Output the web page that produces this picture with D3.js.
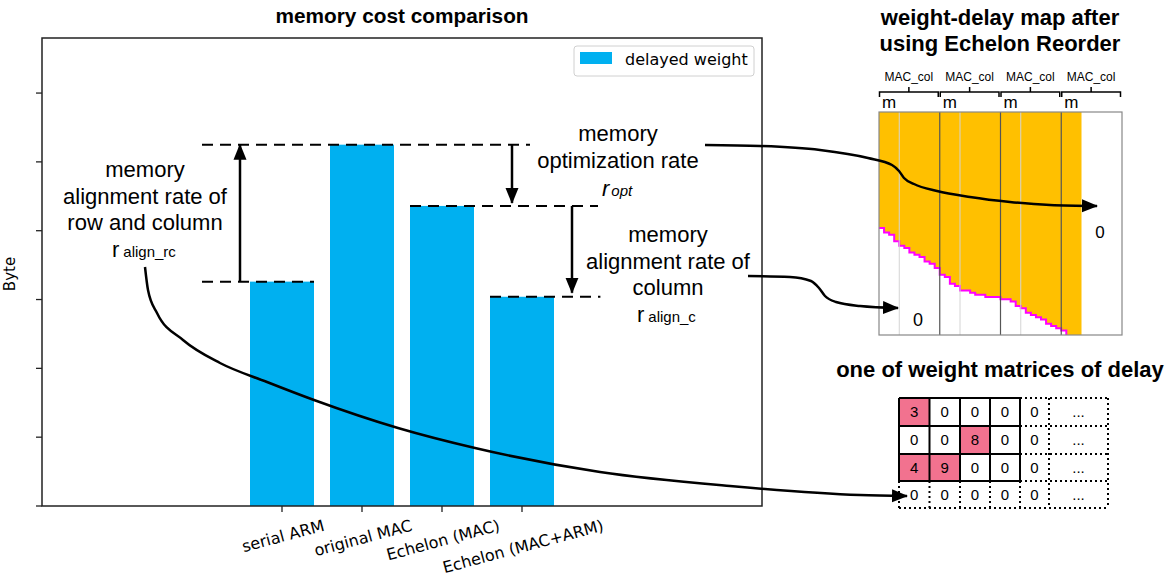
<!DOCTYPE html>
<html><head><meta charset="utf-8">
<script src="https://cdn.jsdelivr.net/npm/d3@7"></script>
<style>
body{margin:0;background:#fff}
text{font-family:"Liberation Sans",Arial,sans-serif;fill:#000}
.dv{font-family:"DejaVu Sans",sans-serif}
</style>
</head><body>
<script>
// bar chart values (unlabelled y axis)
var categories = ["serial ARM", "original MAC", "Echelon (MAC)", "Echelon (MAC+ARM)"];
var delayed = [3.26, 5.25, 4.36, 3.04];
var yTicks = [0, 1, 2, 3, 4, 5, 6];

// weight-delay map: 4 groups of 12 weight columns, delay edge per column (0-100 rows)
var macGroups = ["MAC_col", "MAC_col", "MAC_col", "MAC_col"];
var delayEdge = [52, 54, 55, 58, 60, 61, 63, 64, 65, 67, 68, 70, 73, 74, 77, 78, 80, 80, 81, 82,
                 82, 83, 83, 83, 84, 84, 85, 87, 88, 90, 91, 92, 93, 95, 96, 97, 98, 100, 100, 100];

// one weight matrix of delay
var matrixRows = [
  ["3", "0", "0", "0", "0", "..."],
  ["0", "0", "8", "0", "0", "..."],
  ["4", "9", "0", "0", "0", "..."],
  ["0", "0", "0", "0", "0", "..."]
];
var pinkCells = [[0, 0], [1, 2], [2, 0], [2, 1]];

var svg = d3.select("body").append("svg").attr("width", 1170).attr("height", 577);

var defs = svg.append("defs");
defs.append("marker").attr("id", "ah")
    .attr("markerUnits", "userSpaceOnUse")
    .attr("viewBox", "0 -7 16 14").attr("refX", 15).attr("refY", 0)
    .attr("markerWidth", 16).attr("markerHeight", 14).attr("orient", "auto")
  .append("path").attr("d", "M0,-6.5L16,0L0,6.5Z").attr("fill", "#000");

// ---------------- left chart ----------------
var L = 42, R = 762, T = 38, B = 506;
var x = d3.scaleLinear().domain([-3, 6]).range([L, R]);
var y = d3.scaleLinear().domain([0, 6.8]).range([B, T]);
var bw = 0.8;

svg.append("text").attr("x", 402).attr("y", 23).attr("text-anchor", "middle")
   .style("font-size", "20.8px").style("font-weight", "bold").text("memory cost comparison");

svg.selectAll("rect.bar").data(delayed).enter().append("rect")
   .attr("class", "bar")
   .attr("x", function(d, i) { return x(i - bw / 2); })
   .attr("width", x(bw) - x(0))
   .attr("y", function(d) { return y(d); })
   .attr("height", function(d) { return B - y(d); })
   .attr("fill", "#00B0F0");

svg.append("rect").attr("x", L).attr("y", T).attr("width", R - L).attr("height", B - T)
   .attr("fill", "none").attr("stroke", "#222").attr("stroke-width", 1.5);

svg.selectAll("line.yt").data(yTicks).enter().append("line")
   .attr("x1", L - 6).attr("x2", L).attr("y1", function(d) { return y(d); }).attr("y2", function(d) { return y(d); })
   .attr("stroke", "#222").attr("stroke-width", 1.3);

svg.selectAll("line.xt").data(categories).enter().append("line")
   .attr("x1", function(d, i) { return x(i); }).attr("x2", function(d, i) { return x(i); })
   .attr("y1", B).attr("y2", B + 6).attr("stroke", "#222").attr("stroke-width", 1.3);

var sin = Math.sin(15 * Math.PI / 180), cos = Math.cos(15 * Math.PI / 180);
svg.selectAll("text.xl").data(categories).enter().append("text")
   .attr("class", "dv").style("font-size", "16px").attr("text-anchor", "middle").attr("dy", "0.35em")
   .text(function(d) { return d; })
   .attr("transform", function(d, i) {
     var len = this.getComputedTextLength();
     var H = len * sin + 18.5 * cos;
     return "translate(" + (x(i) + 1) + "," + (516 + H / 2) + ") rotate(-15)";
   });

svg.append("text").attr("class", "dv").style("font-size", "15px").attr("text-anchor", "middle")
   .attr("transform", "translate(15,274) rotate(-90)").text("Byte");

// legend
var lg = svg.append("g");
lg.append("rect").attr("x", 574).attr("y", 46).attr("width", 180).attr("height", 30).attr("rx", 3)
  .attr("fill", "#fff").attr("stroke", "#d0d0d0");
lg.append("rect").attr("x", 580).attr("y", 52).attr("width", 32).attr("height", 12).attr("fill", "#00B0F0");
lg.append("text").attr("class", "dv").attr("x", 625).attr("y", 65).style("font-size", "16px").text("delayed weight");

// dashed guide lines at bar tops
var guides = [[-1.0, 0.4, delayed[0]], [-1.0, 3.1, delayed[1]], [1.6, 3.95, delayed[2]], [2.6, 3.98, delayed[3]]];
svg.selectAll("line.gd").data(guides).enter().append("line")
   .attr("x1", function(d) { return x(d[0]); }).attr("x2", function(d) { return x(d[1]); })
   .attr("y1", function(d) { return y(d[2]); }).attr("y2", function(d) { return y(d[2]); })
   .attr("stroke", "#000").attr("stroke-width", 2).attr("stroke-dasharray", "11,7");

// vertical arrows
var arrows = [[-0.525, delayed[0], delayed[1], 0], [2.875, delayed[1], delayed[2], -3], [3.625, delayed[2], delayed[3], -4]];
svg.selectAll("line.ar").data(arrows).enter().append("line")
   .attr("x1", function(d) { return x(d[0]); }).attr("x2", function(d) { return x(d[0]); })
   .attr("y1", function(d) { return y(d[1]); }).attr("y2", function(d) { return y(d[2]) + d[3]; })
   .attr("stroke", "#000").attr("stroke-width", 2.5).attr("marker-end", "url(#ah)");

// annotation text
function block(cx, lines, y0) {
  lines.forEach(function(s, i) {
    svg.append("text").attr("x", cx).attr("y", y0 + i * 26.5).attr("text-anchor", "middle")
       .style("font-size", "22px").text(s);
  });
}
block(145, ["memory", "alignment rate of", "row and column"], 177);
block(618, ["memory", "optimization rate"], 141);
block(668, ["memory", "alignment rate of", "column"], 242);

var t1 = svg.append("text").attr("x", 112).attr("y", 257);
t1.append("tspan").style("font-size", "22px").text("r");
t1.append("tspan").style("font-size", "15px").attr("dx", 4).text("align_rc");
var t2 = svg.append("text").attr("x", 602).attr("y", 196).style("font-style", "italic");
t2.append("tspan").style("font-size", "22px").text("r");
t2.append("tspan").style("font-size", "15px").attr("dx", 2).text("opt");
var t3 = svg.append("text").attr("x", 637).attr("y", 322);
t3.append("tspan").style("font-size", "22px").text("r");
t3.append("tspan").style("font-size", "15px").attr("dx", 4).text("align_c");

// ---------------- weight-delay map ----------------
var mx = d3.scaleLinear().domain([0, 48]).range([879, 1122]);
var my = d3.scaleLinear().domain([0, 100]).range([112, 335]);

svg.append("text").attr("x", 1000).attr("y", 25).attr("text-anchor", "middle")
   .style("font-size", "22px").style("font-weight", "bold").text("weight-delay map after");
svg.append("text").attr("x", 1000).attr("y", 51).attr("text-anchor", "middle")
   .style("font-size", "22px").style("font-weight", "bold").text("using Echelon Reorder");

var edgePts = delayEdge.map(function(d, i) { return [i, d]; });
edgePts.push([delayEdge.length, delayEdge[delayEdge.length - 1]]);
svg.append("path").datum(edgePts)
   .attr("d", d3.area().curve(d3.curveStepAfter).x(function(d) { return mx(d[0]); })
     .y0(my(0)).y1(function(d) { return my(d[1]); }))
   .attr("fill", "#FFC000");

var magPts = edgePts.filter(function(d, i) { return i === 0 || delayEdge[i - 1] < 100; });
svg.append("path").datum(magPts)
   .attr("d", d3.line().curve(d3.curveStepAfter).x(function(d) { return mx(d[0]); }).y(function(d) { return my(d[1]); }))
   .attr("fill", "none").attr("stroke", "#FF00FF").attr("stroke-width", 2);

svg.selectAll("line.mlight").data([4, 16, 28]).enter().append("line")
   .attr("x1", function(d) { return mx(d); }).attr("x2", function(d) { return mx(d); })
   .attr("y1", my(0)).attr("y2", my(100)).attr("stroke", "#d4d4d4").attr("stroke-width", 1);
svg.selectAll("line.mdark").data([12, 24, 36]).enter().append("line")
   .attr("x1", function(d) { return mx(d); }).attr("x2", function(d) { return mx(d); })
   .attr("y1", my(0)).attr("y2", my(100)).attr("stroke", "#555").attr("stroke-width", 1.2);
svg.append("rect").attr("x", mx(0)).attr("y", my(0)).attr("width", mx(48) - mx(0)).attr("height", my(100) - my(0))
   .attr("fill", "none").attr("stroke", "#888").attr("stroke-width", 1.2);

macGroups.forEach(function(g, i) {
  var x0 = mx(i * 12) + 0.5, x1 = mx(i * 12 + 12) - 1.5, mid = (x0 + x1) / 2;
  svg.append("path").attr("d", "M" + x0 + ",97V92H" + x1 + "V97M" + mid + ",92V87")
     .attr("fill", "none").attr("stroke", "#000").attr("stroke-width", 1.5);
  svg.append("text").attr("x", mid).attr("y", 81).attr("text-anchor", "middle").style("font-size", "12px").text(g);
  svg.append("text").attr("x", mx(i * 12) + 3).attr("y", 108).style("font-size", "17px").text("m");
});

svg.append("text").attr("x", 918).attr("y", 326).attr("text-anchor", "middle").style("font-size", "18px").text("0");
svg.append("text").attr("x", 1100).attr("y", 238).attr("text-anchor", "middle").style("font-size", "17px").text("0");

// ---------------- weight matrix ----------------
svg.append("text").attr("x", 1000).attr("y", 377).attr("text-anchor", "middle")
   .style("font-size", "22px").style("font-weight", "bold").text("one of weight matrices of delay");

var colEdges = [899, 929.5, 960, 990, 1020, 1049, 1108];
var rowEdges = [398, 426, 454, 481, 508];
var cellX = d3.scaleOrdinal().domain(d3.range(7)).range(colEdges);
var cellY = d3.scaleOrdinal().domain(d3.range(5)).range(rowEdges);

svg.selectAll("rect.pink").data(pinkCells).enter().append("rect")
   .attr("x", function(d) { return cellX(d[1]); }).attr("y", function(d) { return cellY(d[0]); })
   .attr("width", function(d) { return cellX(d[1] + 1) - cellX(d[1]); })
   .attr("height", function(d) { return cellY(d[0] + 1) - cellY(d[0]); })
   .attr("fill", "#F2728F");

matrixRows.forEach(function(row, r) {
  row.forEach(function(v, c) {
    svg.append("text").attr("x", (cellX(c) + cellX(c + 1)) / 2).attr("y", (cellY(r) + cellY(r + 1)) / 2)
       .attr("dy", "0.35em").attr("text-anchor", "middle").style("font-size", "15px").text(v);
  });
});

function seg(x1, y1, x2, y2, dotted) {
  svg.append("line").attr("x1", x1).attr("y1", y1).attr("x2", x2).attr("y2", y2)
     .attr("stroke", "#000").attr("stroke-width", 2)
     .attr("stroke-dasharray", dotted ? "2,3" : null);
}
d3.range(4).forEach(function(r) { seg(cellX(0), cellY(r), cellX(4), cellY(r), false); });
d3.range(5).forEach(function(c) { seg(cellX(c), cellY(0), cellX(c), cellY(3), false); });
d3.range(4).forEach(function(r) { seg(cellX(4), cellY(r), cellX(6), cellY(r), true); });
seg(cellX(0), cellY(4), cellX(6), cellY(4), true);
d3.range(5).forEach(function(c) { seg(cellX(c), cellY(3), cellX(c), cellY(4), true); });
[5, 6].forEach(function(c) { seg(cellX(c), cellY(0), cellX(c), cellY(4), true); });

// ---------------- connecting curves ----------------
var curves = [
  [[705, 145], [760, 146], [820, 150], [868, 158], [892, 165], [899, 171], [904, 178], [914, 184], [937, 191], [970, 197], [1010, 202], [1050, 205], [1097, 206]],
  [[748, 276], [790, 277], [811, 281], [819, 288], [825, 296], [836, 302], [860, 306], [898, 308]],
  [[145, 267], [148, 290], [157, 313], [183, 340], [220, 363], [267, 382], [314, 400], [398, 428], [475, 448], [600, 472], [730, 486], [860, 495], [907, 496]]
];
svg.selectAll("path.cv").data(curves).enter().append("path")
   .attr("d", d3.line().curve(d3.curveMonotoneX))
   .attr("fill", "none").attr("stroke", "#000").attr("stroke-width", 2.5).attr("marker-end", "url(#ah)");
</script>
</body></html>
